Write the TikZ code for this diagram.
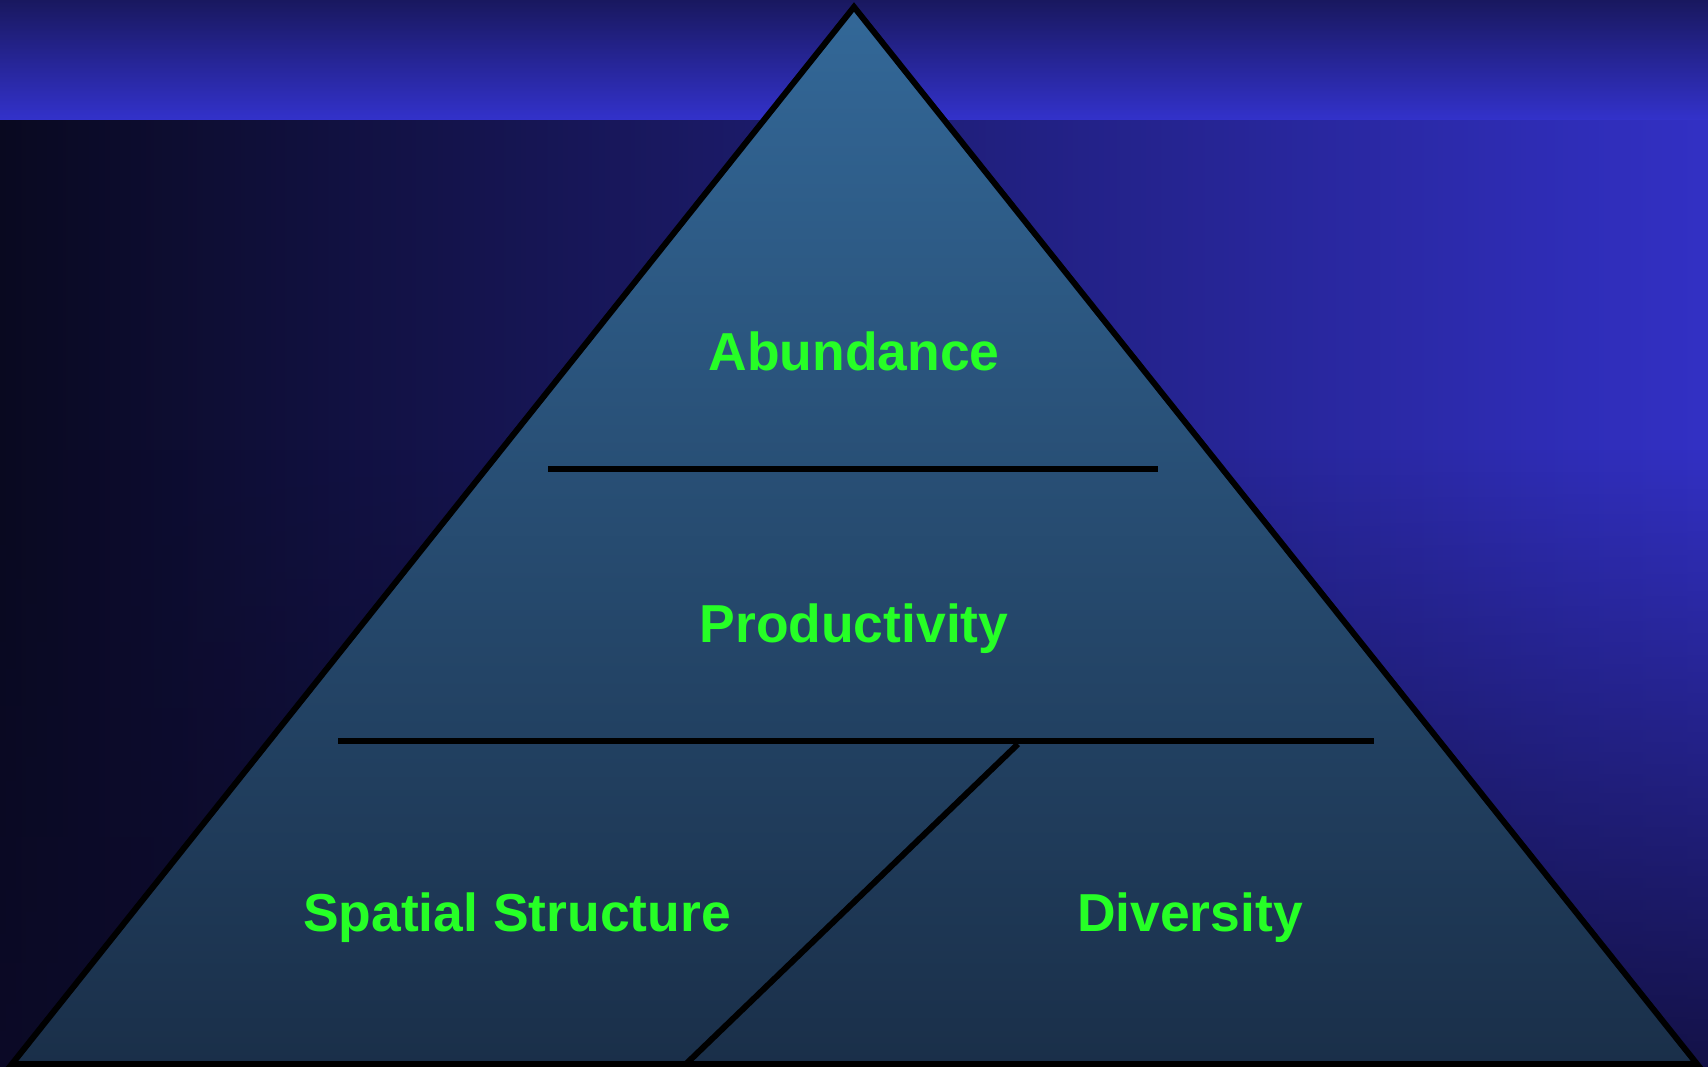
\documentclass[tikz,border=0pt]{standalone}
\usepackage{fontspec}
\setmainfont{Liberation Sans}
\usetikzlibrary{positioning, shadings, fadings}
\definecolor{tiergreen}{RGB}{38,255,38}
\definecolor{bandtop}{RGB}{25,24,95}
\definecolor{bandlow}{RGB}{51,50,204}
\definecolor{skyleft}{RGB}{9,9,32}
\definecolor{skymid}{RGB}{30,30,118}
\definecolor{skyright}{RGB}{50,48,196}
\definecolor{floordark}{RGB}{12,10,40}
\definecolor{pyrtop}{RGB}{51,104,152}
\definecolor{pyrlow}{RGB}{26,47,73}
\tikzset{
    x=0.01cm, y=-0.01cm, % pixel grid, y downwards
    tier/.style={text=tiergreen, inner sep=0pt, anchor=base,
        font=\bfseries\fontsize{15.2}{18}\selectfont}, % level labels
    divider/.style={draw=black, line width=1.7pt}, % lines between levels
}

\begin{document}
\begin{tikzpicture}
    % backdrop
    \useasboundingbox (0,0) rectangle (1708,1067);
    \shade[top color=bandtop, bottom color=bandlow] (0,0) rectangle (1708,121);
    \shade[left color=skyleft, middle color=skymid, right color=skyright]
        (0,121) rectangle (1708,1067);
    \fill[floordark, path fading=north, fill opacity=0.8] (0,450) rectangle (1708,1067);

    % pyramid
    \coordinate (apex) at (854,7);
    \coordinate (baseL) at (12,1064);
    \coordinate (baseR) at (1697,1064);
    \shadedraw[top color=pyrtop, bottom color=pyrlow, divider, line join=miter]
        (apex) -- (baseL) -- (baseR) -- cycle;

    % level lines
    \coordinate (upL) at (548,469);
    \coordinate (upR) at (1158,469);
    \coordinate (midL) at (338,741);
    \coordinate (midR) at (1374,741);
    \coordinate (cutT) at (1018,744);
    \coordinate (cutB) at (686,1064);
    \draw[divider] (upL) -- (upR);
    \draw[divider] (midL) -- (midR);
    \draw[divider] (cutT) -- (cutB);

    % labels
    \node[tier] (abund) at (854,371) {Abundance};
    \node[tier] (prod) at (854,643) {Productivity};
    \node[tier] (spatial) at (517,932) {Spatial Structure};
    \node[tier] (divers) at (1190,932) {Diversity};
\end{tikzpicture}
\end{document}
